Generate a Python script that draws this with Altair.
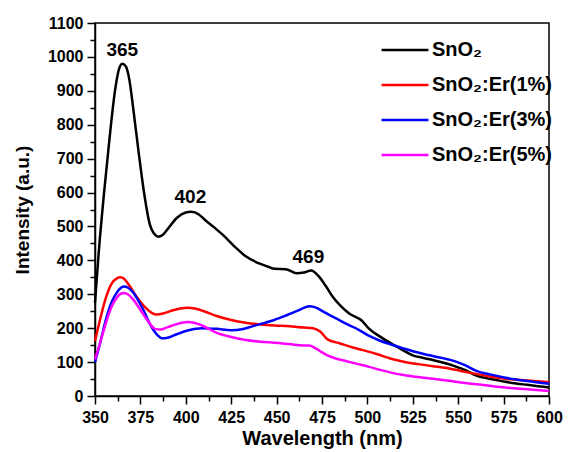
import altair as alt
import pandas as pd

# ---- data ----
series_names = ["SnO₂", "SnO₂:Er(1%)", "SnO₂:Er(3%)", "SnO₂:Er(5%)"]
series_colors = ["#000000", "#ff0000", "#0000ff", "#ff00ff"]

wl_sno2 = [350, 352, 355, 358, 361, 363, 365, 367, 369, 371, 374, 377, 380, 383, 385, 387,
           390, 395, 400, 403, 407, 410, 415, 421, 427, 433, 440, 445, 449, 455, 461, 465,
           469, 473, 477, 481, 485, 490, 497, 501, 507, 513, 519, 525, 531, 536, 542, 548,
           554, 560, 566, 571, 576, 582, 588, 594, 600]
int_sno2 = [275, 420, 600, 760, 900, 960, 980, 972, 930, 850, 720, 600, 510, 476, 470, 474,
            492, 525, 541, 543, 536, 522, 500, 472, 440, 412, 392, 382, 375, 374, 362, 364,
            370, 354, 325, 292, 267, 243, 222, 198, 175, 155, 137, 120, 112, 106, 98, 88,
            76, 60, 52, 47, 42, 37, 33, 29, 25]

wl_er1 = [350, 353, 356, 359, 362, 364, 366, 369, 373, 377, 381, 384, 388, 393, 397, 401,
          405, 410, 417, 425, 433, 441, 449, 457, 465, 470, 474, 478, 485, 492, 497, 505,
          513, 520, 528, 536, 545, 556, 566, 576, 588, 600]
int_er1 = [162, 230, 290, 330, 347, 350, 346, 325, 292, 265, 246, 240, 244, 253, 258, 260,
           258, 250, 236, 224, 216, 211, 208, 206, 202, 200, 190, 167, 155, 143, 136, 124,
           110, 101, 94, 88, 81, 69, 59, 51, 46, 41]

wl_er3 = [350, 353, 356, 359, 362, 364, 366, 368, 371, 374, 377, 380, 384, 387, 390, 395,
          401, 409, 417, 425, 431, 437, 443, 449, 455, 461, 465, 468, 471, 477, 483, 489,
          495, 501, 507, 513, 519, 525, 531, 536, 542, 548, 554, 560, 568, 576, 588, 600]
int_er3 = [100, 160, 225, 275, 305, 318, 323, 320, 305, 280, 250, 215, 182, 170, 172, 182,
           193, 200, 198, 194, 197, 206, 215, 225, 237, 250, 260, 265, 262, 245, 228, 211,
           196, 177, 163, 152, 142, 132, 124, 118, 111, 103, 90, 74, 63, 54, 44, 36]

wl_er5 = [350, 353, 356, 359, 362, 364, 366, 368, 371, 374, 377, 380, 383, 386, 390, 395,
          401, 409, 417, 425, 433, 441, 449, 457, 465, 468, 471, 474, 478, 483, 489, 495,
          501, 507, 513, 520, 528, 536, 546, 556, 566, 576, 588, 600]
int_er5 = [108, 160, 215, 262, 290, 301, 304, 300, 285, 262, 238, 215, 198, 196, 203, 212,
           218, 208, 186, 174, 165, 160, 157, 153, 149, 149, 142, 132, 120, 110, 102, 94,
           86, 77, 69, 62, 56, 51, 44, 37, 31, 25, 20, 15]

peak_labels = ["365", "402", "469"]
peak_x = [365, 402.5, 467.5]
peak_y = [1020, 588, 411]

x_major = [350, 375, 400, 425, 450, 475, 500, 525, 550, 575, 600]
x_minor = [362.5, 387.5, 412.5, 437.5, 462.5, 487.5, 512.5, 537.5, 562.5, 587.5]
y_major = [0, 100, 200, 300, 400, 500, 600, 700, 800, 900, 1000, 1100]
y_minor = [50, 150, 250, 350, 450, 550, 650, 750, 850, 950, 1050]

# ---- tables ----
rows = []
for name, wls, vals in [
    (series_names[0], wl_sno2, int_sno2),
    (series_names[1], wl_er1, int_er1),
    (series_names[2], wl_er3, int_er3),
    (series_names[3], wl_er5, int_er5),
]:
    for w, v in zip(wls, vals):
        rows.append({"Wavelength": w, "Intensity": v, "Sample": name})
df = pd.DataFrame(rows)
df_peaks = pd.DataFrame({"label": peak_labels, "x": peak_x, "y": peak_y})

FONT = "Liberation Sans"
xscale = alt.Scale(domain=[350, 600], nice=False, zero=False)
yscale = alt.Scale(domain=[0, 1100], nice=False)

lines = alt.Chart(df).mark_line(strokeWidth=2.5, interpolate="monotone").encode(
    x=alt.X("Wavelength:Q", scale=xscale,
            axis=alt.Axis(values=x_major, orient="bottom", title="Wavelength (nm)",
                          tickSize=8, labelPadding=5, titlePadding=3, format="d",
                          labelFontSize=16, titleFontSize=20, labelFlush=False)),
    y=alt.Y("Intensity:Q", scale=yscale,
            axis=alt.Axis(values=y_major, orient="left", title="Intensity (a.u.)",
                          tickSize=8, labelPadding=4, titlePadding=15, format="d",
                          labelFontSize=16, titleFontSize=19, labelFlush=False)),
    color=alt.Color("Sample:N",
                    scale=alt.Scale(domain=series_names, range=series_colors),
                    sort=series_names,
                    legend=alt.Legend(title=None, orient="none", legendX=285, legendY=2,
                                      symbolType="stroke", symbolSize=2200,
                                      symbolStrokeWidth=2.5, labelFontSize=20,
                                      labelFont=FONT, labelFontWeight="bold",
                                      rowPadding=-19, labelOffset=2, padding=0)),
)

texts = alt.Chart(df_peaks).mark_text(fontSize=19, fontWeight="bold", font=FONT,
                                      color="black").encode(
    x=alt.X("x:Q", scale=xscale,
            axis=alt.Axis(values=x_minor, orient="bottom", title="", labels=False,
                          domain=False, tickSize=5, grid=False)),
    y=alt.Y("y:Q", scale=yscale,
            axis=alt.Axis(values=y_minor, orient="left", title="", labels=False,
                          domain=False, tickSize=5, grid=False)),
    text="label:N",
)

chart = alt.layer(lines, texts).resolve_axis(x="independent", y="independent").properties(
    width=454, height=373,
    autosize=alt.AutoSizeParams(type="none"),
    padding={"left": 87, "top": 15, "right": 14, "bottom": 54},
).configure_view(stroke="black", strokeWidth=1.5).configure_axis(
    grid=False, domainColor="black", domainWidth=1.5, tickColor="black", tickWidth=1.5,
    labelColor="black", titleColor="black", labelFont=FONT, titleFont=FONT,
    labelFontWeight="bold", titleFontWeight="bold",
)

chart.save("out.html", embed_options={"renderer": "svg", "actions": False})
